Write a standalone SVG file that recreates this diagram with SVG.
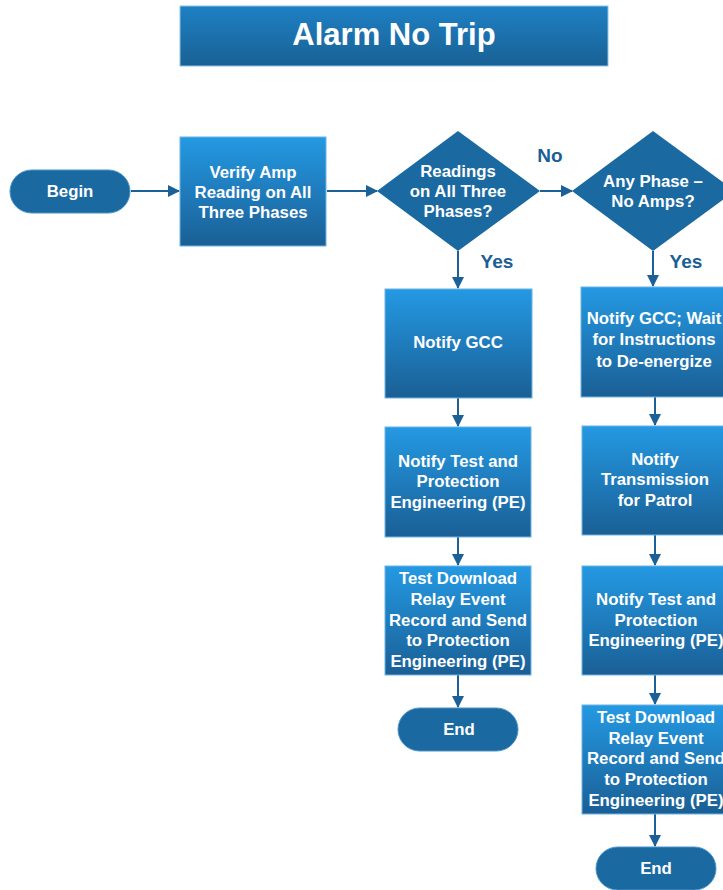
<svg xmlns="http://www.w3.org/2000/svg" width="723" height="890" viewBox="0 0 723 890">
<defs>
<linearGradient id="gBox" x1="0" y1="0" x2="0" y2="1">
<stop offset="0" stop-color="#2499e3"/>
<stop offset="1" stop-color="#1a5f95"/>
</linearGradient>
<linearGradient id="gTitle" x1="0" y1="0" x2="0" y2="1">
<stop offset="0" stop-color="#1e80c4"/>
<stop offset="1" stop-color="#196194"/>
</linearGradient>
<marker id="ah" markerWidth="12" markerHeight="12" refX="11" refY="6" orient="auto" markerUnits="userSpaceOnUse">
<path d="M0,0 L12,6 L0,12 Z" fill="#1b6096"/>
</marker>
</defs>
<style>
.box{fill:url(#gBox);stroke:#6fb4e6;stroke-width:1}
.term{fill:#1a69a0;stroke:#4c93c8;stroke-width:1}
.dec{fill:#1a69a0}
.t{font-family:"Liberation Sans",Arial,sans-serif;font-weight:bold;font-size:16.8px;fill:#ffffff;text-anchor:middle}
.lbl{font-family:"Liberation Sans",Arial,sans-serif;font-weight:bold;font-size:19px;fill:#1a5f95;text-anchor:middle}
.c{stroke:#1b6096;stroke-width:2;fill:none;marker-end:url(#ah)}
</style>
<rect width="723" height="890" fill="#ffffff"/>
<g id="title">
<rect x="180" y="6" width="428" height="60" fill="url(#gTitle)" stroke="#8cc3ea" stroke-width="1"/>
<text x="394" y="45" class="t" style="font-size:31px">Alarm No Trip</text>
</g>
<g id="connectors">
<line class="c" x1="131" y1="191" x2="179" y2="191"/>
<line class="c" x1="327" y1="191" x2="377" y2="191"/>
<line class="c" x1="540" y1="191" x2="572" y2="191"/>
<line class="c" x1="458" y1="251" x2="458" y2="288"/>
<line class="c" x1="653" y1="251" x2="653" y2="286"/>
<line class="c" x1="458" y1="398" x2="458" y2="426"/>
<line class="c" x1="458" y1="537" x2="458" y2="565"/>
<line class="c" x1="458" y1="675" x2="458" y2="707"/>
<line class="c" x1="655" y1="397" x2="655" y2="425"/>
<line class="c" x1="655" y1="535" x2="655" y2="565"/>
<line class="c" x1="655" y1="675" x2="655" y2="704"/>
<line class="c" x1="655" y1="814" x2="655" y2="846"/>
<text x="550" y="162" class="lbl">No</text>
<text x="497" y="268" class="lbl">Yes</text>
<text x="686" y="268" class="lbl">Yes</text>
</g>
<g id="begin">
<rect x="10" y="170" width="120" height="43" rx="21.5" class="term"/>
<text x="70" y="197" class="t">Begin</text>
</g>
<g id="verify">
<rect x="180" y="137" width="146" height="109" class="box"/>
<text x="253" y="178" class="t">Verify Amp</text>
<text x="253" y="198" class="t">Reading on All</text>
<text x="253" y="218" class="t">Three Phases</text>
</g>
<g id="readings">
<polygon points="458,131 540,191 458,251 377,191" class="dec"/>
<text x="458" y="177" class="t">Readings</text>
<text x="458" y="197" class="t">on All Three</text>
<text x="458" y="217" class="t">Phases?</text>
</g>
<g id="anyphase">
<polygon points="653,131 735,191 653,251 572,191" class="dec"/>
<text x="653" y="187" class="t">Any Phase –</text>
<text x="653" y="207" class="t">No Amps?</text>
</g>
<g id="notifygcc">
<rect x="385" y="289" width="147" height="109" class="box"/>
<text x="458" y="348" class="t">Notify GCC</text>
</g>
<g id="notifytest1">
<rect x="385" y="427" width="146" height="110" class="box"/>
<text x="458" y="467" class="t">Notify Test and</text>
<text x="458" y="487" class="t">Protection</text>
<text x="458" y="508" class="t">Engineering (PE)</text>
</g>
<g id="download1">
<rect x="385" y="566" width="146" height="109" class="box"/>
<text x="458" y="584" class="t">Test Download</text>
<text x="458" y="605" class="t">Relay Event</text>
<text x="458" y="626" class="t">Record and Send</text>
<text x="458" y="646" class="t">to Protection</text>
<text x="458" y="667" class="t">Engineering (PE)</text>
</g>
<g id="end1">
<rect x="398" y="708" width="120" height="43" rx="21.5" class="term"/>
<text x="459" y="735" class="t">End</text>
</g>
<g id="notifygccwait">
<rect x="581" y="287" width="147" height="110" class="box"/>
<text x="654" y="324" class="t">Notify GCC; Wait</text>
<text x="654" y="345" class="t">for Instructions</text>
<text x="654" y="367" class="t">to De-energize</text>
</g>
<g id="transmission">
<rect x="582" y="426" width="147" height="109" class="box"/>
<text x="655" y="465" class="t">Notify</text>
<text x="655" y="485" class="t">Transmission</text>
<text x="655" y="506" class="t">for Patrol</text>
</g>
<g id="notifytest2">
<rect x="582" y="566" width="147" height="109" class="box"/>
<text x="656" y="605" class="t">Notify Test and</text>
<text x="656" y="626" class="t">Protection</text>
<text x="656" y="646" class="t">Engineering (PE)</text>
</g>
<g id="download2">
<rect x="582" y="705" width="147" height="109" class="box"/>
<text x="656" y="723" class="t">Test Download</text>
<text x="656" y="744" class="t">Relay Event</text>
<text x="656" y="764" class="t">Record and Send</text>
<text x="656" y="785" class="t">to Protection</text>
<text x="656" y="806" class="t">Engineering (PE)</text>
</g>
<g id="end2">
<rect x="596" y="847" width="120" height="43" rx="21.5" class="term"/>
<text x="656" y="874" class="t">End</text>
</g>
</svg>
